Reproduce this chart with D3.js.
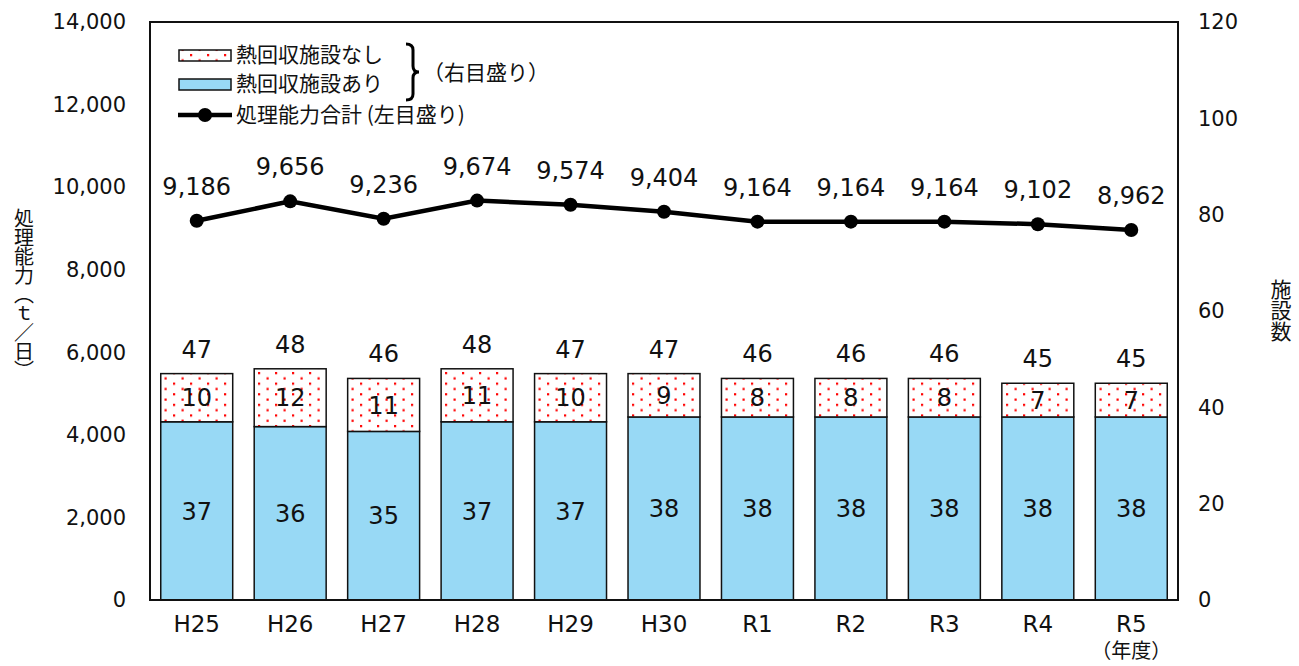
<!DOCTYPE html>
<html lang="ja">
<head>
  <meta charset="UTF-8" />
  <title>処理能力と施設数</title>
  <script src="https://d3js.org/d3.v7.min.js"></script>
  <style>
    body {
      margin: 0;
      background: white;
      font-family: "Noto Sans CJK JP", "Noto Sans", sans-serif;
    }
    svg text { fill: #111; }
    .num { font-family: "DejaVu Sans", "Noto Sans CJK JP", sans-serif; }
  </style>
</head>
<body>
  <svg width="1299" height="666"></svg>

  <script>
    // data
    const years = ["H25", "H26", "H27", "H28", "H29", "H30", "R1", "R2", "R3", "R4", "R5"];
    const withHeat = [37, 36, 35, 37, 37, 38, 38, 38, 38, 38, 38];      // 熱回収施設あり
    const withoutHeat = [10, 12, 11, 11, 10, 9, 8, 8, 8, 7, 7];        // 熱回収施設なし
    const capacity = [9186, 9656, 9236, 9674, 9574, 9404, 9164, 9164, 9164, 9102, 8962];
    const leftTicks = [0, 2000, 4000, 6000, 8000, 10000, 12000, 14000];
    const rightTicks = [0, 20, 40, 60, 80, 100, 120];

    const blue = "#98D9F5";
    const plot = { left: 150, right: 1178, top: 22, bottom: 600 };

    const svg = d3.select("svg");

    // dotted pattern for the "なし" bars
    const defs = svg.append("defs");
    const pat = defs.append("pattern")
      .attr("id", "dots")
      .attr("patternUnits", "userSpaceOnUse")
      .attr("width", 17).attr("height", 10.6);
    pat.append("rect").attr("width", 17).attr("height", 10.6).attr("fill", "white");
    pat.append("rect").attr("x", 3).attr("y", 1).attr("width", 2.2).attr("height", 2.2).attr("fill", "#f00");
    pat.append("rect").attr("x", 11.5).attr("y", 6.3).attr("width", 2.2).attr("height", 2.2).attr("fill", "#f00");

    const x = d3.scaleBand().domain(years).range([plot.left, plot.right]).paddingInner(0.23).paddingOuter(0.115);
    const yL = d3.scaleLinear().domain([0, 14000]).range([plot.bottom, plot.top]);
    const yR = d3.scaleLinear().domain([0, 120]).range([plot.bottom, plot.top]);
    const fmt = d3.format(",");

    // axes (labels only, no tick marks)
    const leftAxis = svg.append("g")
      .attr("transform", `translate(${plot.left},0)`)
      .call(d3.axisLeft(yL).tickValues(leftTicks).tickFormat(fmt).tickSize(0).tickPadding(24));
    leftAxis.select(".domain").remove();
    leftAxis.selectAll("text").attr("class", "num").attr("font-size", 21).attr("font-family", null).attr("fill", "#111");

    const rightAxis = svg.append("g")
      .attr("transform", `translate(${plot.right},0)`)
      .call(d3.axisRight(yR).tickValues(rightTicks).tickSize(0).tickPadding(20));
    rightAxis.select(".domain").remove();
    rightAxis.selectAll("text").attr("class", "num").attr("font-size", 21).attr("font-family", null).attr("fill", "#111");

    const bottomAxis = svg.append("g")
      .attr("transform", `translate(0,${plot.bottom})`)
      .call(d3.axisBottom(x).tickSize(0).tickPadding(16));
    bottomAxis.select(".domain").remove();
    bottomAxis.selectAll("text").attr("class", "num").attr("font-size", 23).attr("font-family", null).attr("fill", "#111");

    svg.append("text")
      .attr("x", x("R5") + x.bandwidth() / 2).attr("y", 658)
      .attr("text-anchor", "middle").attr("font-size", 20)
      .text("（年度）");

    // stacked bars on the right scale
    const bars = svg.append("g");
    years.forEach((yr, i) => {
      const x0 = x(yr), w = x.bandwidth();
      const a = withHeat[i], n = withoutHeat[i];
      bars.append("rect")
        .attr("x", x0).attr("y", yR(a)).attr("width", w).attr("height", yR(0) - yR(a))
        .attr("fill", blue).attr("stroke", "#111").attr("stroke-width", 1.5);
      bars.append("rect")
        .attr("x", x0).attr("y", yR(a + n)).attr("width", w).attr("height", yR(a) - yR(a + n))
        .attr("fill", "url(#dots)").attr("stroke", "#111").attr("stroke-width", 1.5);
      bars.append("text").attr("class", "num")
        .attr("x", x0 + w / 2).attr("y", (yR(0) + yR(a)) / 2).attr("dy", "0.36em")
        .attr("text-anchor", "middle").attr("font-size", 24).text(a);
      bars.append("text").attr("class", "num")
        .attr("x", x0 + w / 2).attr("y", (yR(a) + yR(a + n)) / 2).attr("dy", "0.36em")
        .attr("text-anchor", "middle").attr("font-size", 24).text(n);
      bars.append("text").attr("class", "num")
        .attr("x", x0 + w / 2).attr("y", yR(a + n) - 16)
        .attr("text-anchor", "middle").attr("font-size", 24).text(a + n);
    });

    // plot frame
    svg.append("rect")
      .attr("x", plot.left).attr("y", plot.top)
      .attr("width", plot.right - plot.left).attr("height", plot.bottom - plot.top)
      .attr("fill", "none").attr("stroke", "#111").attr("stroke-width", 2);

    // capacity line on the left scale
    const cx = (d, i) => x(years[i]) + x.bandwidth() / 2;
    svg.append("path")
      .datum(capacity)
      .attr("d", d3.line().x(cx).y(d => yL(d)))
      .attr("fill", "none").attr("stroke", "#000").attr("stroke-width", 4.5);
    svg.selectAll(".pt").data(capacity).join("circle")
      .attr("cx", cx).attr("cy", d => yL(d)).attr("r", 7).attr("fill", "#000");
    svg.selectAll(".cap").data(capacity).join("text")
      .attr("class", "num")
      .attr("x", cx).attr("y", d => yL(d) - 26)
      .attr("text-anchor", "middle").attr("font-size", 24)
      .text(d => fmt(d));

    // axis titles, written vertically
    svg.append("text")
      .attr("x", 24).attr("y", 294)
      .attr("text-anchor", "middle")
      .style("writing-mode", "vertical-rl")
      .style("letter-spacing", "-1px")
      .attr("font-size", 20)
      .text("処理能力（ｔ／日）");
    svg.append("text")
      .attr("x", 1281).attr("y", 310)
      .attr("text-anchor", "middle")
      .style("writing-mode", "vertical-rl")
      .attr("font-size", 21)
      .text("施設数");

    // legend
    const lg = svg.append("g");
    lg.append("rect").attr("x", 179).attr("y", 50).attr("width", 52).attr("height", 11)
      .attr("fill", "url(#dots)").attr("stroke", "#111").attr("stroke-width", 1.5);
    lg.append("rect").attr("x", 179).attr("y", 79).attr("width", 52).attr("height", 11)
      .attr("fill", blue).attr("stroke", "#111").attr("stroke-width", 1.5);
    lg.append("line").attr("x1", 178).attr("x2", 232).attr("y1", 115).attr("y2", 115)
      .attr("stroke", "#000").attr("stroke-width", 4.5);
    lg.append("circle").attr("cx", 205).attr("cy", 115).attr("r", 7).attr("fill", "#000");
    const legendText = ["熱回収施設なし", "熱回収施設あり", "処理能力合計 (左目盛り)"];
    [55, 84, 115].forEach((yy, i) => {
      lg.append("text").attr("x", 236).attr("y", yy).attr("dy", "0.35em")
        .attr("font-size", 21).text(legendText[i]);
    });
    lg.append("path")
      .attr("d", "M406,44 Q413,44 413,50 L413,66 Q413,72 419,72 Q413,72 413,78 L413,94 Q413,100 406,100")
      .attr("fill", "none").attr("stroke", "#000").attr("stroke-width", 3);
    lg.append("text").attr("x", 423).attr("y", 73).attr("dy", "0.35em")
      .attr("font-size", 21).text("（右目盛り）");
  </script>
</body>
</html>
